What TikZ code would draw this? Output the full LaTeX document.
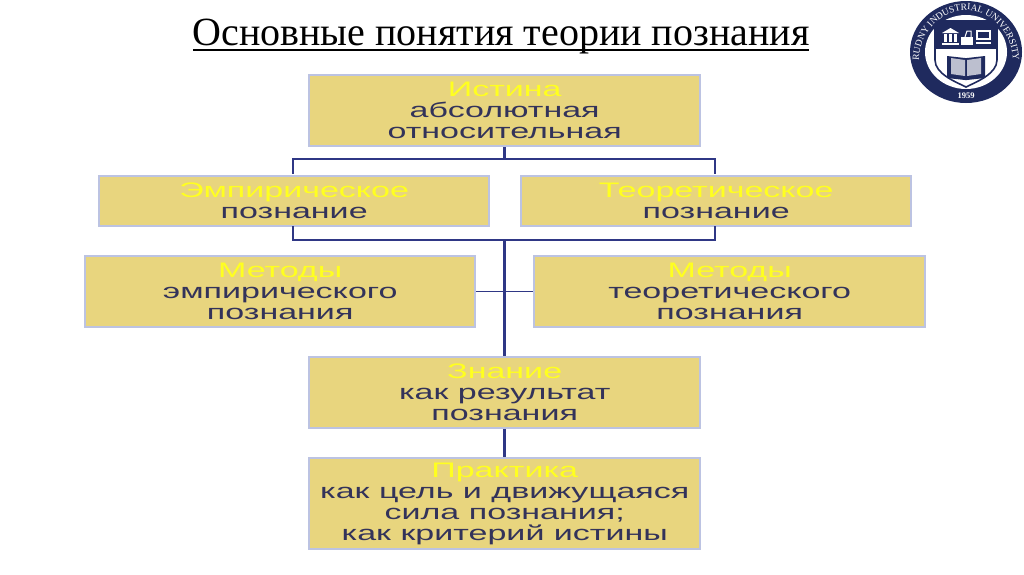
\documentclass[tikz,border=0pt]{standalone}
\usepackage{fontspec}
\setmainfont{Liberation Sans}
\newfontfamily\titlefont{Liberation Serif}
\usetikzlibrary{decorations.text}
\definecolor{boxfill}{HTML}{E8D57E}
\definecolor{boxedge}{HTML}{BCC3E2}
\definecolor{navy}{HTML}{2F3785}
\definecolor{txt}{HTML}{33335A}
\definecolor{head}{HTML}{FFFF20}
\definecolor{logo}{HTML}{1F2A5E}
\newcommand{\wl}[1]{\scalebox{1.62}[1]{#1}}
\newcommand{\hd}[1]{\scalebox{1.62}[1]{\color{head}#1}}
\tikzset{
  box/.style={draw=boxedge,fill=boxfill,line width=2.4pt,anchor=north west,inner sep=0pt,
    align=center,text=txt,font=\fontsize{21}{21}\selectfont},
  trunk/.style={draw=navy,line width=3pt},
  branch/.style={draw=navy,line width=2pt},
  thinline/.style={draw=navy,line width=1.4pt},
}
\begin{document}
\begin{tikzpicture}[x=1pt,y=-1pt]
\useasboundingbox (0,0) rectangle (1024,574);
\fill[white] (0,0) rectangle (1024,574);
\node[inner sep=0pt,anchor=base,font=\titlefont\fontsize{40}{44}\selectfont] (title) at (501,45.5) {Основные понятия теории познания};
\draw[line width=1.8pt] (193,50) -- (809,50);

\node[box,minimum width=391pt,minimum height=71pt] (ist) at (308,74) {\hd{Истина}\\\wl{абсолютная}\\\wl{относительная}};
\node[box,minimum width=390pt,minimum height=50pt] (emp) at (98,175) {\hd{Эмпирическое}\\\wl{познание}};
\node[box,minimum width=390pt,minimum height=50pt] (teo) at (520,175) {\hd{Теоретическое}\\\wl{познание}};
\node[box,minimum width=390pt,minimum height=71pt] (mem) at (84,255) {\hd{Методы}\\\wl{эмпирического}\\\wl{познания}};
\node[box,minimum width=391pt,minimum height=71pt] (mte) at (533,255) {\hd{Методы}\\\wl{теоретического}\\\wl{познания}};
\node[box,minimum width=391pt,minimum height=71pt] (zna) at (308,356) {\hd{Знание}\\\wl{как результат}\\\wl{познания}};
\node[box,minimum width=391pt,minimum height=91pt] (pra) at (308,457) {\hd{Практика}\\\wl{как цель и движущаяся}\\\wl{сила познания;}\\\wl{как критерий истины}};

\coordinate (j1) at (504,159);
\coordinate (j2) at (504,240);
\coordinate (el) at (293,174);
\coordinate (er) at (715,174);
\coordinate (bl) at (293,226);
\coordinate (br) at (715,226);
\draw[trunk] (ist.south -| j1) -- (j1);
\draw[branch] (el) -- (el |- j1) -- (er |- j1) -- (er);
\draw[branch] (bl) -- (bl |- j2) -- (br |- j2) -- (br);
\draw[trunk] (j2) -- (zna.north -| j2);
\draw[thinline] (mem.east) -- (mte.west);
\draw[trunk] (zna.south -| j2) -- (pra.north -| j2);

% logo
\begin{scope}[shift={(966,52)}]
  \fill[logo] (0,0) ellipse [x radius=56, y radius=51];
  \fill[white] (0,0) ellipse [x radius=41, y radius=37];
  % shield
  \fill[logo] (-31,-31) rectangle (31,-3);
  \draw[logo,line width=1.6pt] (-31,-31) -- (31,-31) -- (31,8) .. controls (31,22) and (10,30) .. (0,35) .. controls (-10,30) and (-31,22) .. (-31,8) -- cycle;
  % icons
  \fill[white] (-24,-9) rectangle (-7,-7.5);
  \fill[white] (-24,-19) -- (-15.5,-24) -- (-7,-19) -- cycle;
  \foreach \ix in {-22,-17,-12} {\fill[white] (\ix,-18) rectangle (\ix+2.5,-10);}
  \fill[white] (-5,-15) rectangle (7,-7);
  \draw[white,line width=1pt] (-1,-15) -- (1,-21) -- (5,-21) -- (5,-15);
  \draw[white,line width=1.2pt] (11,-21) rectangle (24,-13);
  \fill[white] (10,-10) rectangle (25,-8);
  % book
  \fill[logo] (-19,4) -- (-1,6) -- (1,6) -- (19,4) -- (19,26) -- (1,28) -- (-1,28) -- (-19,26) -- cycle;
  \fill[white!70!logo] (-15,6) -- (-1,8) -- (-1,24) -- (-15,22) -- cycle;
  \fill[white!70!logo] (15,6) -- (1,8) -- (1,24) -- (15,22) -- cycle;
  \path[postaction={decorate,decoration={text along path,text align=center,
      text={|\titlefont\fontsize{9.5}{10}\selectfont\color{white}|RUDNY INDUSTRIAL UNIVERSITY}}}]
    (-44,26) .. controls (-56,-8) and (-30,-42) .. (0,-42) .. controls (30,-42) and (56,-8) .. (44,26);
  \node[inner sep=0pt,text=white,font=\titlefont\bfseries\fontsize{8.5}{8.5}\selectfont] (yr) at (0,43.5) {1959};
\end{scope}
\end{tikzpicture}
\end{document}
